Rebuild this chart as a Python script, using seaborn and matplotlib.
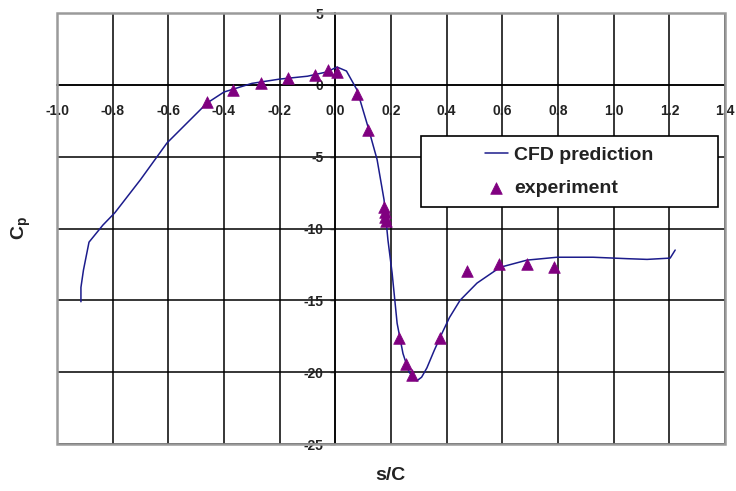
import matplotlib
matplotlib.use("Agg")
import matplotlib.pyplot as plt
from matplotlib.patches import Rectangle
import seaborn as sns
import pandas as pd

# CFD prediction curve (s/C, Cp)
cfd_x = [-0.914, -0.914, -0.905, -0.885, -0.835, -0.792, -0.70, -0.605, -0.53, -0.461,
         -0.40, -0.30, -0.20, -0.10, -0.03, 0.006, 0.04, 0.078, 0.117, 0.15,
         0.175, 0.189, 0.204, 0.222, 0.243, 0.265, 0.293, 0.31, 0.329, 0.355,
         0.383, 0.41, 0.448, 0.509, 0.592, 0.689, 0.797, 0.926, 1.048, 1.12,
         1.167, 1.203, 1.221]
cfd_y = [-15.1, -14.1, -12.9, -10.95, -9.76, -8.9, -6.6, -4.05, -2.6, -1.27,
         -0.5, 0.1, 0.4, 0.6, 0.9, 1.24, 0.96, -0.36, -2.9, -5.2,
         -8.0, -10.8, -13.1, -16.6, -18.7, -20.0, -20.6, -20.35, -19.7, -18.5,
         -17.3, -16.2, -15.0, -13.8, -12.7, -12.2, -12.0, -12.0, -12.1, -12.15,
         -12.1, -12.06, -11.5]

# Experimental points
exp_x = [-0.461, -0.368, -0.267, -0.170, -0.073, -0.026, 0.006, 0.078, 0.117,
         0.175, 0.178, 0.180, 0.182, 0.229, 0.254, 0.276, 0.376, 0.473, 0.588,
         0.689, 0.786]
exp_y = [-1.2, -0.36, 0.13, 0.47, 0.68, 1.03, 0.89, -0.64, -3.15,
         -8.5, -8.85, -9.2, -9.5, -17.6, -19.4, -20.2, -17.6, -12.97, -12.5,
         -12.5, -12.7]

x_ticks = [-1.0, -0.8, -0.6, -0.4, -0.2, 0.0, 0.2, 0.4, 0.6, 0.8, 1.0, 1.2, 1.4]
x_tick_labels = ["-1.0", "-0.8", "-0.6", "-0.4", "-0.2", "0.0", "0.2", "0.4",
                 "0.6", "0.8", "1.0", "1.2", "1.4"]
y_ticks = [5, 0, -5, -10, -15, -20, -25]
y_tick_labels = ["5", "0", "-5", "-10", "-15", "-20", "-25"]

sns.set_style("white")
plt.rcParams["font.family"] = ["Liberation Sans", "DejaVu Sans"]
plt.rcParams["axes.unicode_minus"] = False
plt.rcParams["mathtext.fontset"] = "custom"
plt.rcParams["mathtext.rm"] = "Liberation Sans"
plt.rcParams["mathtext.bf"] = "Liberation Sans:bold"
plt.rcParams["mathtext.it"] = "Liberation Sans:italic"

fig = plt.figure(figsize=(7.36, 4.91), dpi=100)
ax = fig.add_axes([57 / 736, 1 - 444 / 491, 668 / 736, 431 / 491])

cfd = pd.DataFrame({"s": cfd_x, "cp": cfd_y})
exp = pd.DataFrame({"s": exp_x, "cp": exp_y})

sns.lineplot(data=cfd, x="s", y="cp", ax=ax, color="#1c1c8c", linewidth=1.1,
             sort=False, estimator=None, label="CFD prediction", zorder=4)
sns.scatterplot(data=exp, x="s", y="cp", ax=ax, marker="^", color="#800080",
                s=70, edgecolor="#800080", linewidth=0.5, label="experiment", zorder=5)

ax.set_xlim(-1.0, 1.4)
ax.set_ylim(-25, 5)
ax.set_xticks(x_ticks)
ax.set_xticklabels(x_tick_labels)
ax.set_yticks(y_ticks)
ax.set_yticklabels(y_tick_labels)
ax.set_xlabel("")
ax.set_ylabel("")

ax.grid(True, color="black", linewidth=1.1)
ax.set_axisbelow(True)

for side in ["top", "right"]:
    ax.spines[side].set_visible(False)
ax.spines["left"].set_position(("data", 0))
ax.spines["bottom"].set_position(("data", 0))
ax.spines["left"].set_color("black")
ax.spines["bottom"].set_color("black")
ax.spines["left"].set_linewidth(1.1)
ax.spines["bottom"].set_linewidth(1.1)

ax.tick_params(axis="x", length=0, pad=14, labelsize=10, labelcolor="#222222")
ax.tick_params(axis="y", direction="out", length=3.5, width=1, pad=5,
               labelsize=10, labelcolor="#222222", left=True)
for lab in ax.get_xticklabels() + ax.get_yticklabels():
    lab.set_fontweight("bold")

# outer gray border
ax.add_patch(Rectangle((0, 0), 1, 1, transform=ax.transAxes, fill=False,
                       edgecolor="#9a9a9a", linewidth=1.8, clip_on=False, zorder=6))

# legend box
bx0, bx1 = (421 - 57) / 668, (718 - 57) / 668
by0, by1 = (444 - 207) / 431, (444 - 136) / 431
ax.add_patch(Rectangle((bx0, by0), bx1 - bx0, by1 - by0, transform=ax.transAxes,
                       facecolor="white", edgecolor="black", linewidth=1.2, zorder=7))
leg = ax.legend(loc="center", bbox_to_anchor=((bx0 + bx1) / 2, (by0 + by1) / 2),
                frameon=False, prop={"size": 14, "weight": "bold"},
                handlelength=1.15, handletextpad=0.35,
                labelspacing=0.8, borderaxespad=0)
for t in leg.get_texts():
    t.set_color("#222222")
leg.set_zorder(8)

fig.text(390 / 736, 1 - 475 / 491, "s/C", ha="center", va="center",
         fontsize=14, fontweight="bold", color="#222222")
fig.text(21 / 736, 1 - 228 / 491, r"$\mathbf{C_p}$", ha="center", va="center",
         fontsize=14, color="#222222", rotation=90)

fig.savefig("out.png", dpi=100)
